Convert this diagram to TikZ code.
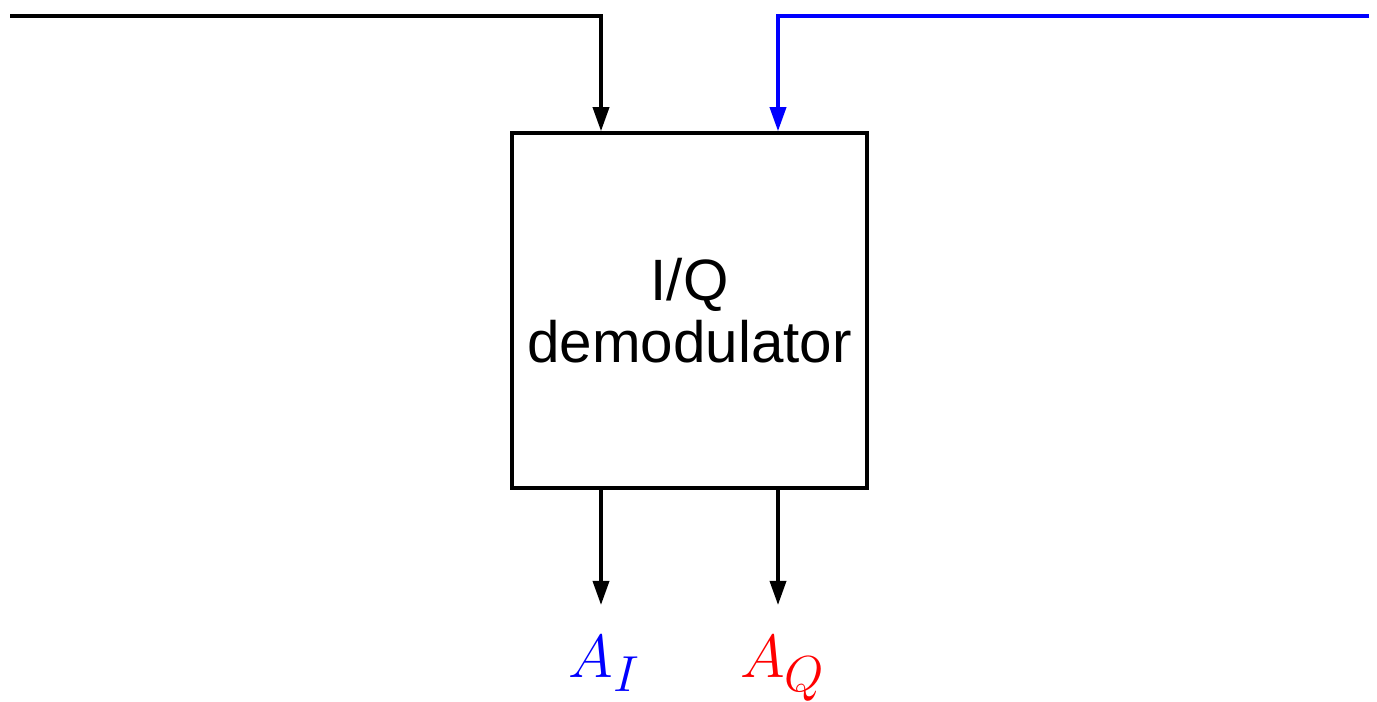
\documentclass[tikz,border=0pt]{standalone}
\usepackage{amsmath}
\usepackage{fontspec}
\newfontfamily\blockfont{Liberation Sans}
\usetikzlibrary{arrows.meta}

\begin{document}
\begin{tikzpicture}[>={Triangle[length=2.4mm,width=1.6mm]},x=1cm,y=1cm,
    line width=1pt,
    blockbox/.style={draw,minimum width=3.55cm,minimum height=3.55cm,
        align=center,font=\blockfont\fontsize{16.6}{17.6}\selectfont},
    outlabel/.style={anchor=base,font=\fontsize{19}{23}\selectfont}]
    \useasboundingbox (0,0) rectangle (13.77,7.02);

    \node[blockbox] (demod) at (6.895,3.915) {I/Q\\demodulator};

    \coordinate (inI) at (0.10,6.86);
    \coordinate (inQ) at (13.69,6.86);
    \coordinate (topI) at (6.01,6.86);
    \coordinate (topQ) at (7.78,6.86);

    \draw[->] (inI) -- (topI) -- (topI |- demod.north);
    \draw[->,blue] (inQ) -- (topQ) -- (topQ |- demod.north);

    \coordinate (endI) at (6.01,0.97);
    \coordinate (endQ) at (7.78,0.97);
    \draw[->] (endI |- demod.south) -- (endI);
    \draw[->] (endQ |- demod.south) -- (endQ);

    \node[outlabel,text=blue] (AI) at (6.05,0.24) {\(A_I\)};
    \node[outlabel,text=red] (AQ) at (7.83,0.24) {\(A_Q\)};
\end{tikzpicture}
\end{document}
